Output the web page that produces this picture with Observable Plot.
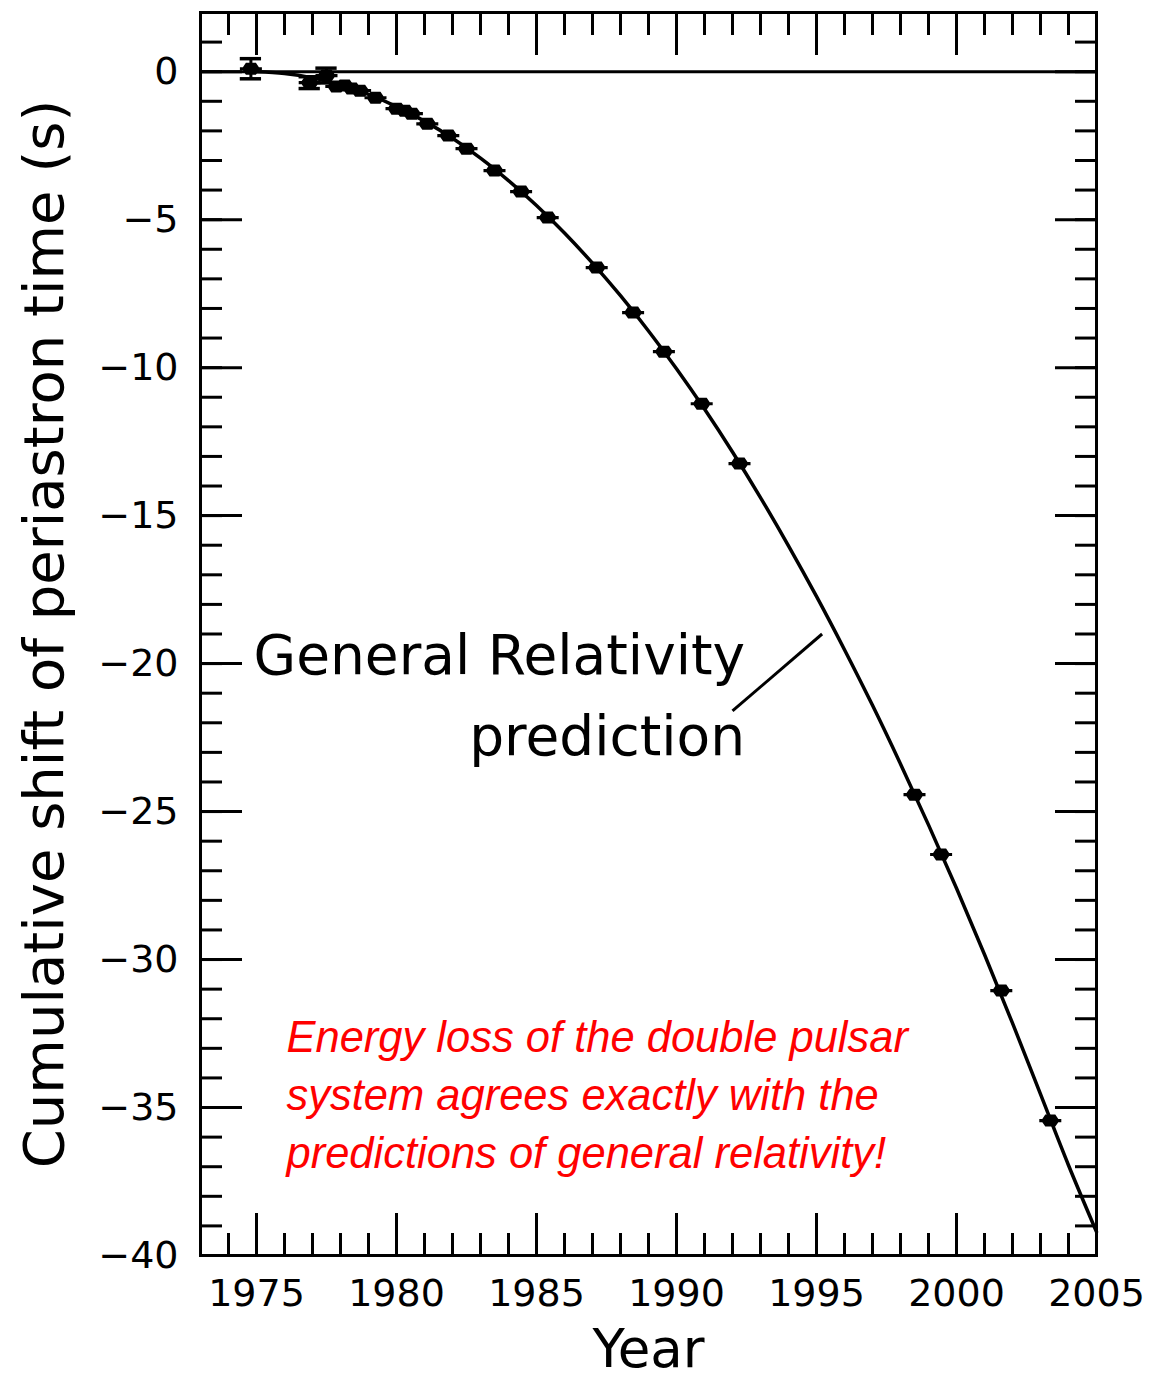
<!DOCTYPE html>
<html>
<head>
<meta charset="utf-8">
<script src="https://cdn.jsdelivr.net/npm/d3@7"></script>
<script src="https://cdn.jsdelivr.net/npm/@observablehq/plot@0.6"></script>
<style>
  html, body { margin: 0; padding: 0; background: #ffffff; }
  #chart svg { display: block; }
</style>
</head>
<body>
<div id="chart"></div>
<script>
// ---- Observed cumulative shift of periastron time (PSR B1913+16) ----
const obsYear  = [1974.8, 1976.9, 1977.5, 1977.85, 1978.15, 1978.4, 1978.7, 1979.25, 1980.0, 1980.3, 1980.55, 1981.1, 1981.85, 1982.5, 1983.5, 1984.45, 1985.4, 1987.15, 1988.45, 1989.55, 1990.9, 1992.25, 1998.5, 1999.45, 2001.6, 2003.35];
const obsShift = [0.1, -0.37, -0.13, -0.5, -0.47, -0.57, -0.64, -0.88, -1.25, -1.32, -1.42, -1.76, -2.16, -2.6, -3.34, -4.05, -4.93, -6.62, -8.14, -9.46, -11.22, -13.24, -24.43, -26.45, -31.05, -35.44];
const obsErr   = [0.34, 0.2, 0.25, 0.12, 0.1, 0.1, 0.08, 0.06, 0.05, 0.05, 0.05, 0.05, 0.05, 0.05, 0.04, 0.04, 0.04, 0.04, 0.04, 0.04, 0.04, 0.04, 0.03, 0.03, 0.03, 0.03];

// ---- General Relativity prediction ----
const curveYear  = [1974.8, 1975, 1976, 1977, 1978, 1979, 1980, 1981, 1982, 1983, 1984, 1985, 1986, 1987, 1988, 1989, 1990, 1991, 1992, 1993, 1994, 1995, 1996, 1997, 1998, 1999, 2000, 2001, 2002, 2003, 2004, 2005];
const curveShift = [0, -0.002, -0.06, -0.21, -0.45, -0.77, -1.18, -1.67, -2.25, -2.92, -3.68, -4.52, -5.45, -6.47, -7.57, -8.76, -10.04, -11.4, -12.85, -14.39, -16.02, -17.73, -19.53, -21.41, -23.39, -25.45, -27.59, -29.83, -32.15, -34.55, -36.95, -39.2];

// ---- Axes ----
const xMajorTicks = [1975, 1980, 1985, 1990, 1995, 2000, 2005];
const xMinorTicks = d3.range(1973, 2006, 1);
const yMajorTicks = [0, -5, -10, -15, -20, -25, -30, -35, -40];
const yMinorTicks = d3.range(-40, 3, 1);

// ---- Text ----
const xLabel = "Year";
const yLabel = "Cumulative shift of periastron time (s)";
const grLine1 = ["General Relativity"];
const grLine2 = ["prediction"];
const grAnchor = [{x: 1992.45, y1: -20.35, y2: -23.1}];
const leader = [{x1: 1992.0, y1: -21.6, x2: 1995.2, y2: -19.0}];
const noteText = ["Energy loss of the double pulsar\nsystem agrees exactly with the\npredictions of general relativity!"];
const notePos = [{x: 1976.07, y: -37.06}];

const obs = obsYear.map((x, i) => ({x, y: obsShift[i], e: obsErr[i]}));
const curve = curveYear.map((x, i) => ({x, y: curveShift[i]}));
const errs = obs.filter(d => d.e > 0.15);

// filled PGPLOT-like marker with short horizontal error bar
const blob = {
  draw(ctx) {
    ctx.moveTo(-11, -1.6); ctx.lineTo(-8, -1.6); ctx.lineTo(-5, -6); ctx.lineTo(5, -6);
    ctx.lineTo(8, -1.6); ctx.lineTo(11, -1.6); ctx.lineTo(11, 1.6); ctx.lineTo(8, 1.6);
    ctx.lineTo(5, 6); ctx.lineTo(-5, 6); ctx.lineTo(-8, 1.6); ctx.lineTo(-11, 1.6);
    ctx.closePath();
  }
};

const tickOnly = {stroke: "black", strokeWidth: 3, fill: "none", label: null, tickFormat: () => ""};
const FONT = "DejaVu Sans";

const chart = Plot.plot({
  width: 1151,
  height: 1380,
  marginLeft: 200,
  marginRight: 55,
  marginTop: 12,
  marginBottom: 125,
  style: {fontFamily: FONT, background: "white", color: "black"},
  x: {domain: [1973, 2005]},
  y: {domain: [-40, 2]},
  marks: [
    // inward ticks on all four sides
    Plot.axisX(xMinorTicks, {anchor: "bottom", tickSize: 22, dy: -22, ...tickOnly}),
    Plot.axisX(xMajorTicks, {anchor: "bottom", tickSize: 42, dy: -42, ...tickOnly}),
    Plot.axisX(xMinorTicks, {anchor: "top", tickSize: 22, dy: 22, ...tickOnly}),
    Plot.axisX(xMajorTicks, {anchor: "top", tickSize: 42, dy: 42, ...tickOnly}),
    Plot.axisY(yMinorTicks, {anchor: "left", tickSize: 22, dx: 22, ...tickOnly}),
    Plot.axisY(yMajorTicks, {anchor: "left", tickSize: 42, dx: 42, ...tickOnly}),
    Plot.axisY(yMinorTicks, {anchor: "right", tickSize: 22, dx: -22, ...tickOnly}),
    Plot.axisY(yMajorTicks, {anchor: "right", tickSize: 42, dx: -42, ...tickOnly}),
    // tick labels
    Plot.axisX(xMajorTicks, {anchor: "bottom", tickSize: 0, tickPadding: 24, fontSize: 38, label: null, tickFormat: d => String(d)}),
    Plot.axisY(yMajorTicks, {anchor: "left", tickSize: 0, tickPadding: 22, fontSize: 38, label: null}),
    // axis titles
    Plot.text([xLabel], {frameAnchor: "bottom", dy: 111, textAnchor: "middle", lineAnchor: "bottom", fontSize: 53, fill: "black"}),
    Plot.text([yLabel], {frameAnchor: "left", dx: -138, rotate: -90, textAnchor: "middle", lineAnchor: "bottom", fontSize: 56, fill: "black"}),
    // zero line
    Plot.ruleY([0], {stroke: "black", strokeWidth: 3}),
    // GR curve
    Plot.line(curve, {x: "x", y: "y", stroke: "black", strokeWidth: 3.5, curve: "catmull-rom"}),
    // error bars
    Plot.ruleX(errs, {x: "x", y1: d => d.y - d.e, y2: d => d.y + d.e, stroke: "black", strokeWidth: 3}),
    Plot.ruleY(errs, {y: d => d.y - d.e, x1: d => d.x - 0.38, x2: d => d.x + 0.38, stroke: "black", strokeWidth: 3.5}),
    Plot.ruleY(errs, {y: d => d.y + d.e, x1: d => d.x - 0.38, x2: d => d.x + 0.38, stroke: "black", strokeWidth: 3.5}),
    // data points
    Plot.dot(obs, {x: "x", y: "y", symbol: blob, fill: "black", stroke: "none"}),
    // annotation
    Plot.text(grLine1, {x: grAnchor[0].x, y: grAnchor[0].y1, textAnchor: "end", lineAnchor: "bottom", fontSize: 55, fill: "black"}),
    Plot.text(grLine2, {x: grAnchor[0].x, y: grAnchor[0].y2, textAnchor: "end", lineAnchor: "bottom", fontSize: 55, fill: "black"}),
    Plot.link(leader, {x1: "x1", y1: "y1", x2: "x2", y2: "y2", stroke: "black", strokeWidth: 3}),
    // red note
    Plot.text(noteText, {x: notePos[0].x, y: notePos[0].y, textAnchor: "start", lineAnchor: "bottom", lineHeight: 1.34,
      fontSize: 43.5, fontStyle: "italic", fontFamily: "Liberation Sans", fill: "#ff0000"}),
    // frame
    Plot.frame({stroke: "black", strokeWidth: 3})
  ]
});

document.getElementById("chart").appendChild(chart);
</script>
</body>
</html>
